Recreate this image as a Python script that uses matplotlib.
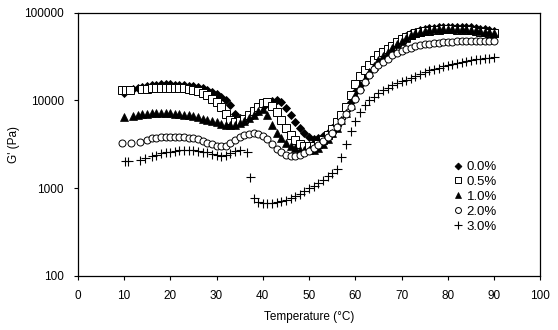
import matplotlib
matplotlib.use("Agg")
import matplotlib.pyplot as plt
from matplotlib.ticker import FixedLocator, NullLocator, FuncFormatter

plt.rcParams['font.family'] = ['Liberation Sans', 'DejaVu Sans']

# ---- data ----
t_00 = [10, 11, 12, 13, 14, 15, 16, 17, 18, 19, 20, 21, 22, 23, 24, 25, 26, 27, 28, 29,
        30, 31, 32, 33, 34, 35, 36, 37, 38, 39, 40, 41, 42, 43, 44, 45, 46, 47, 48, 49,
        50, 51, 52, 53, 54, 55, 56, 57, 58, 59, 60, 61, 62, 63, 64, 65, 66, 67, 68, 69,
        70, 71, 72, 73, 74, 75, 76, 77, 78, 79, 80, 81, 82, 83, 84, 85, 86, 87, 88, 89, 90]
g_00 = [12000, 13000, 13500, 14000, 14300, 14600, 14800, 15000, 15200, 15200,
        15200, 15100, 15000, 14900, 14700, 14400, 14100, 13700, 13200, 12600,
        11900, 11000, 10000, 8800, 7000, 6300, 6200, 6500, 7000, 7700,
        8500, 9300, 9900, 10100, 9600, 8200, 6800, 5700, 4800, 4200,
        3800, 3650, 3700, 3900, 4300, 4800, 5500, 6500, 7600, 9500,
        12500, 15000, 18000, 21000, 24000, 28000, 31500, 35000, 40000, 45000,
        50000, 54000, 58000, 61000, 63000, 65000, 66500, 67500, 68500, 69000,
        69500, 69500, 69500, 69000, 68500, 68000, 67000, 66000, 65000, 63500, 62000]

t_05 = [9.5, 10.5, 11.3, 14, 15, 16, 17, 18, 19, 20, 21, 22, 23, 24, 25, 26, 27, 28, 29,
        30, 31, 32, 33, 34, 35, 36, 37, 38, 39, 40, 41, 42, 43, 44, 45, 46, 47, 48, 49,
        50, 51, 52, 53, 54, 55, 56, 57, 58, 59, 60, 61, 62, 63, 64, 65, 66, 67, 68, 69,
        70, 71, 72, 73, 74, 75, 76, 77, 78, 79, 80, 81, 82, 83, 84, 85, 86, 87, 88, 89, 90]
g_05 = [13000, 13000, 13200, 13400, 13600, 13800, 13900, 14000, 14000, 14000,
        14000, 13900, 13700, 13500, 13200, 12800, 12200, 11500, 10500,
        9500, 8500, 7000, 6000, 5700, 5800, 6200, 6800, 7500, 8500,
        9300, 9500, 8700, 7300, 6000, 4800, 4000, 3500, 3200, 3050,
        3000, 3050, 3200, 3500, 4000, 4700, 5600, 6800, 8500, 11500,
        15500, 19000, 22000, 25000, 29000, 33000, 36000, 39000, 42000, 46000,
        50000, 53000, 56000, 58000, 60000, 61500, 62500, 63500, 64000, 64500,
        64500, 64500, 64300, 64000, 63500, 63000, 62000, 61000, 60000, 59000, 58000]

t_10 = [10, 12, 13, 14, 15, 16, 17, 18, 19, 20, 21, 22, 23, 24, 25, 26, 27, 28, 29,
        30, 31, 32, 33, 34, 35, 36, 37, 38, 39, 40, 41, 42, 43, 44, 45, 46, 47, 48, 49,
        50, 51, 52, 53, 54, 55, 56, 57, 58, 59, 60, 61, 62, 63, 64, 65, 66, 67, 68, 69,
        70, 71, 72, 73, 74, 75, 76, 77, 78, 79, 80, 81, 82, 83, 84, 85, 86, 87, 88, 89, 90]
g_10 = [6500, 6700, 6900, 7000, 7000, 7100, 7100, 7100, 7100, 7100,
        7000, 7000, 6900, 6800, 6600, 6400, 6200, 6000, 5800,
        5600, 5400, 5200, 5200, 5300, 5500, 5800, 6300, 6900, 7600,
        7900, 6800, 5200, 4300, 3700, 3300, 3000, 2850, 2750, 2700,
        2700, 2750, 2900, 3150, 3600, 4200, 4900, 5900, 7200, 8900,
        11500, 14500, 17500, 21000, 24500, 28500, 32000, 36000, 40000, 44000,
        48000, 52000, 55000, 58000, 60000, 62000, 63500, 64500, 65000, 65500,
        65500, 65500, 65300, 65000, 64500, 64000, 63000, 62000, 61000, 60000, 59000]

t_20 = [9.5, 11.5, 13.5, 15, 16, 17, 18, 19, 20, 21, 22, 23, 24, 25, 26, 27, 28, 29,
        30, 31, 32, 33, 34, 35, 36, 37, 38, 39, 40, 41, 42, 43, 44, 45, 46, 47, 48, 49,
        50, 51, 52, 53, 54, 55, 56, 57, 58, 59, 60, 61, 62, 63, 64, 65, 66, 67, 68, 69,
        70, 71, 72, 73, 74, 75, 76, 77, 78, 79, 80, 81, 82, 83, 84, 85, 86, 87, 88, 89, 90]
g_20 = [3300, 3300, 3350, 3550, 3700, 3750, 3800, 3850, 3850, 3850, 3850, 3800, 3750,
        3700, 3600, 3450, 3300, 3150,
        3050, 3000, 3050, 3250, 3500, 3800, 4000, 4150, 4200, 4100,
        3900, 3600, 3200, 2800, 2550, 2400, 2350, 2350, 2400, 2500,
        2650, 2850, 3100, 3400, 3800, 4300, 5000, 5800, 7000, 8500,
        10500, 13000, 16000, 19500, 22500, 25000, 27500, 30000, 32500, 34500,
        36500, 38500, 40000, 41500, 42500, 43500, 44500, 45000, 45500, 46000,
        46500, 46800, 47000, 47200, 47400, 47500, 47600, 47700, 47800, 47900, 48000]

t_30 = [10.2, 10.9, 13.5, 14.5, 16, 17, 18, 19, 20, 21, 22, 23, 24, 25, 26, 27, 28, 29,
        30, 31, 32, 33, 34, 35, 36.5, 37.2, 38, 39, 40, 41, 42, 43, 44, 45, 46, 47, 48, 49,
        50, 51, 52, 53, 54, 55, 56, 57, 58, 59, 60, 61, 62, 63, 64, 65, 66, 67, 68, 69,
        70, 71, 72, 73, 74, 75, 76, 77, 78, 79, 80, 81, 82, 83, 84, 85, 86, 87, 88, 89, 90]
g_30 = [2050, 2060, 2100, 2200, 2300, 2400, 2500, 2550, 2600, 2650, 2700, 2700, 2700,
        2700, 2650, 2600, 2550, 2450,
        2400, 2350, 2400, 2500, 2650, 2700, 2550, 1350, 780, 690,
        670, 670, 680, 690, 710, 740, 780, 820, 860, 920,
        990, 1060, 1150, 1250, 1380, 1500, 1650, 2250, 3200, 4500,
        5800, 7300, 8800, 10000, 11000, 12000, 13000, 14000, 14800, 15600,
        16500, 17300, 18100, 19000, 20000, 21000, 22000, 22800, 23600, 24400,
        25200, 26000, 26700, 27400, 28100, 28700, 29300, 29800, 30300, 30700, 31000]

labels = ['0.0%', '0.5%', '1.0%', '2.0%', '3.0%']
x_ticks = [0, 10, 20, 30, 40, 50, 60, 70, 80, 90, 100]
y_ticks = [100, 1000, 10000, 100000]

# ---- figure ----
fig = plt.figure(figsize=(5.58, 3.30), dpi=100)
ax = fig.add_axes([0.1393, 0.1645, 0.829, 0.797])

ms = 4.8
ax.plot(t_00, g_00, linestyle='none', marker='D', markersize=ms * 0.85, color='black',
        markeredgewidth=0.6, label=labels[0])
ax.plot(t_05, g_05, linestyle='none', marker='s', markersize=ms * 1.1, markerfacecolor='white',
        markeredgecolor='black', markeredgewidth=0.7, label=labels[1])
ax.plot(t_10, g_10, linestyle='none', marker='^', markersize=ms * 1.1, color='black',
        markeredgewidth=0.5, label=labels[2])
ax.plot(t_20, g_20, linestyle='none', marker='o', markersize=ms * 1.05, markerfacecolor='white',
        markeredgecolor='black', markeredgewidth=0.7, label=labels[3])
ax.plot(t_30, g_30, linestyle='none', marker='+', markersize=ms * 1.35, color='black',
        markeredgewidth=0.8, label=labels[4])

ax.set_yscale('log')
ax.set_xlim(0, 100)
ax.set_ylim(100, 100000)
ax.xaxis.set_major_locator(FixedLocator(x_ticks))
ax.yaxis.set_major_locator(FixedLocator(y_ticks))
ax.yaxis.set_minor_locator(NullLocator())
ax.yaxis.set_major_formatter(FuncFormatter(lambda v, p: f"{int(round(v))}"))
ax.tick_params(axis='both', which='major', direction='out', length=3, width=0.8,
               labelsize=8.5, pad=7)

for s in ax.spines.values():
    s.set_linewidth(0.9)
    s.set_color('black')

ax.set_xlabel('Temperature (°C)', fontsize=8.5)
ax.set_ylabel("G' (Pa)", fontsize=8.5)
ax.xaxis.set_label_coords(0.5, -0.134)
ax.yaxis.set_label_coords(-0.125, 0.5)

leg = ax.legend(loc='center left', bbox_to_anchor=(0.811, 0.30), frameon=False,
                fontsize=9.5, handlelength=0.8, handletextpad=0.25, labelspacing=0.2,
                borderpad=0, borderaxespad=0, markerscale=0.85)

fig.savefig('out.png', dpi=100)
